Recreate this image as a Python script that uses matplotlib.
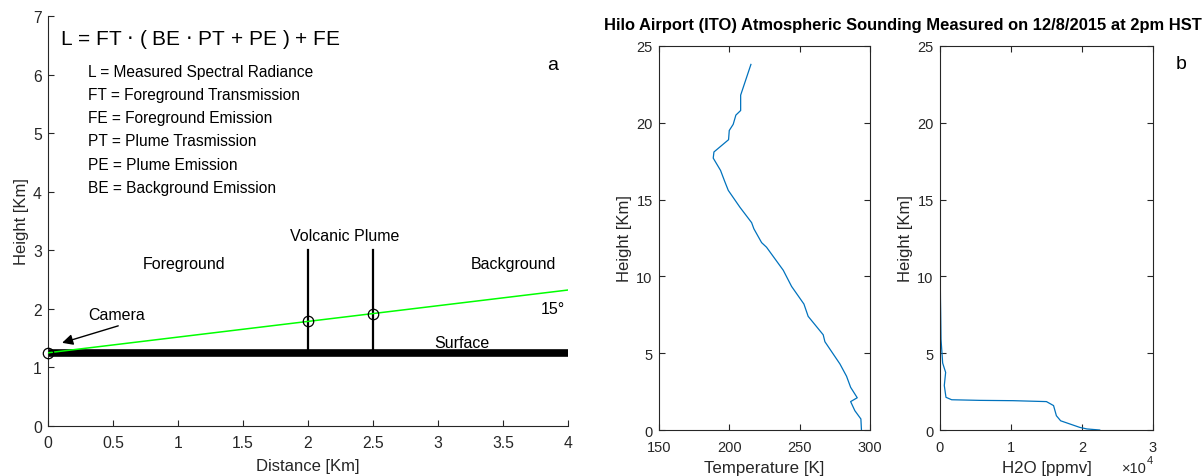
import numpy as np
import matplotlib
matplotlib.use("Agg")
import matplotlib.pyplot as plt
from matplotlib.ticker import FuncFormatter

plt.rcParams['font.family'] = ['Liberation Sans', 'DejaVu Sans']
plt.rcParams['axes.edgecolor'] = '#262626'
plt.rcParams['xtick.color'] = '#262626'
plt.rcParams['ytick.color'] = '#262626'

# --- viewing geometry (panel a) ---
camera_height = 1.25          # km
plume_edges = [2.0, 2.5]      # km from camera
plume_top = 3.0               # km
view_angle_deg = 15.0
max_distance = 4.0

equation = "L = FT $\\cdot$ ( BE $\\cdot$ PT + PE ) + FE"
definitions = [
    "L = Measured Spectral Radiance",
    "FT = Foreground Transmission",
    "FE = Foreground Emission",
    "PT = Plume Trasmission",
    "PE = Plume Emission",
    "BE = Background Emission",
]

# --- Hilo sounding (panel b) ---
temp_height = [23.8, 21.8, 20.8, 20.5, 19.9, 19.5, 18.9, 18.1, 17.7, 16.9, 16.2,
               15.6, 14.5, 13.5, 13.1, 12.2, 11.9, 10.4, 9.35, 8.2, 7.4, 6.2,
               5.75, 4.3, 3.5, 2.78, 2.1, 1.85, 1.26, 0.72, 0.0]
temperature = [215.4, 208.1, 208.1, 204.7, 202.8, 200.0, 199.5, 189.1, 188.6, 193.8, 196.7,
               199.3, 207.6, 215.9, 217.5, 223.0, 226.5, 238.4, 244.3, 253.1, 256.1, 266.8,
               268.0, 278.7, 283.4, 286.3, 291.0, 286.3, 289.3, 293.6, 294.0]

h2o_height = [23.8, 20.0, 15.0, 12.0, 10.0, 8.5, 7.66, 5.9, 4.36, 3.75, 2.9, 2.13,
              1.97, 1.93, 1.91, 1.85, 1.59, 0.93, 0.6, 0.17, 0.07, 0.0]
h2o_ppmv = [5, 8, 12, 25, 40, 70, 100, 150, 380, 800, 610, 845,
            1650, 5630, 10300, 15000, 16000, 16400, 17000, 19700, 20700, 22500]

title = "Hilo Airport (ITO) Atmospheric Sounding Measured on 12/8/2015 at 2pm HST"

TXT = '#262626'
fig = plt.figure(figsize=(12.04, 4.77), dpi=100)

# ---------------- panel a ----------------
ax = fig.add_axes([0.0399, 0.1048, 0.4319, 0.8596])
ax.set_xlim(0, max_distance)
ax.set_ylim(0, 7)
ax.spines['top'].set_visible(False)
ax.spines['right'].set_visible(False)
ax.tick_params(direction='in', labelsize=11.3, length=4)
ax.tick_params(axis='x', pad=6.5)
ax.tick_params(axis='y', pad=4.5)
ax.set_xticks(np.arange(0, 4.01, 0.5))
ax.set_xticklabels(['0', '0.5', '1', '1.5', '2', '2.5', '3', '3.5', '4'])
ax.set_yticks(range(0, 8))
ax.set_xlabel("Distance [Km]", fontsize=12, color=TXT, labelpad=5.5)
ax.set_ylabel("Height [Km]", fontsize=12, color=TXT, labelpad=3)

# surface
ax.plot([0, max_distance], [camera_height, camera_height], color='black', lw=5.5,
        solid_capstyle='butt', zorder=2)
# plume walls
for xp in plume_edges:
    ax.plot([xp, xp], [camera_height, plume_top], color='black', lw=1.6, zorder=2)
# line of sight
slope = np.tan(np.radians(view_angle_deg))
xs = np.array([0, max_distance])
ax.plot(xs, camera_height + slope * xs, color='#00ff00', lw=1.1, zorder=3)
mx = np.array([0] + plume_edges)
ax.plot(mx, camera_height + slope * mx, 'o', mfc='none', mec='black', ms=7.5, mew=0.9,
        zorder=4, clip_on=False)

ax.text(0.092, 6.62, equation, fontsize=15, va='center', ha='left')
for i, d in enumerate(definitions):
    ax.text(0.31, 6.06 - i * 0.397, d, fontsize=11.2, va='center', ha='left')
ax.text(3.88, 6.18, "a", fontsize=14, va='center', ha='center')
ax.text(2.28, 3.26, "Volcanic Plume", fontsize=11.5, va='center', ha='center')
ax.text(1.05, 2.77, "Foreground", fontsize=11.5, va='center', ha='center')
ax.text(3.58, 2.77, "Background", fontsize=11.5, va='center', ha='center')
ax.text(3.18, 1.43, "Surface", fontsize=11.5, va='center', ha='center')
ax.text(3.88, 2.01, "15°", fontsize=11.5, va='center', ha='center')
ax.text(0.53, 1.91, "Camera", fontsize=11.5, va='center', ha='center')
ax.annotate("", xy=(0.108, 1.42), xytext=(0.54, 1.71),
            arrowprops=dict(arrowstyle='-|>', color='black', lw=1, mutation_scale=16,
                            shrinkA=0, shrinkB=0))

# ---------------- panel b: temperature ----------------
line_color = '#0072BD'
axT = fig.add_axes([0.5473, 0.0964, 0.1752, 0.8051])
axT.plot(temperature, temp_height, color=line_color, lw=0.9)
axT.set_xlim(150, 300)
axT.set_ylim(0, 25)
axT.set_xticks([150, 200, 250, 300])
axT.set_yticks([0, 5, 10, 15, 20, 25])
axT.tick_params(direction='in', labelsize=10.5, length=4, top=True, right=True)
axT.tick_params(axis='x', pad=7)
axT.tick_params(axis='y', pad=4.5)
axT.set_xlabel("Temperature [K]", fontsize=12.2, color=TXT, labelpad=4.5)
axT.set_ylabel("Height [Km]", fontsize=12, color=TXT, labelpad=3)

# ---------------- panel b: water vapour ----------------
axW = fig.add_axes([0.7807, 0.0964, 0.1769, 0.8051])
axW.plot(h2o_ppmv, h2o_height, color=line_color, lw=0.9)
axW.set_xlim(0, 30000)
axW.set_ylim(0, 25)
axW.set_xticks([0, 10000, 20000, 30000])
axW.xaxis.set_major_formatter(FuncFormatter(lambda v, p: f"{v / 1e4:g}"))
axW.set_yticks([0, 5, 10, 15, 20, 25])
axW.tick_params(direction='in', labelsize=10.5, length=4, top=True, right=True)
axW.tick_params(axis='x', pad=7)
axW.tick_params(axis='y', pad=4.5)
axW.set_xlabel("H2O [ppmv]", fontsize=12.2, color=TXT, labelpad=4.5)
axW.set_ylabel("Height [Km]", fontsize=12, color=TXT, labelpad=3)
# exponent of the x axis, written MATLAB-style under the right end
axW.text(0.972, -0.11, "×10", transform=axW.transAxes, fontsize=10.5,
         color=TXT, ha='right', va='baseline')
axW.text(0.972, -0.087, "4", transform=axW.transAxes, fontsize=8,
         color=TXT, ha='left', va='baseline')
axW.text(1.13, 0.955, "b", transform=axW.transAxes, fontsize=14, ha='center', va='center')

fig.text(0.75, 0.947, title, fontsize=11.9, fontweight='bold', ha='center', va='center')

fig.savefig("out.png", dpi=100)
